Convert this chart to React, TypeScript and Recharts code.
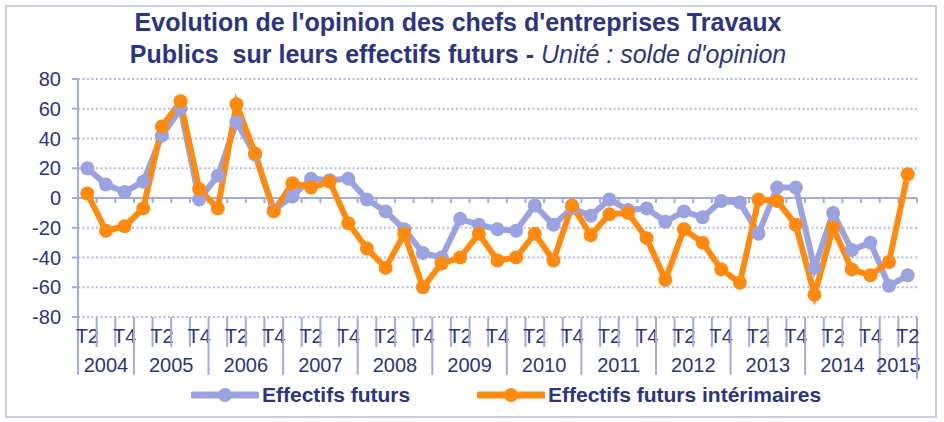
import React from 'react';
import { LineChart, Line, XAxis, YAxis, CartesianGrid, ReferenceLine } from 'recharts';

// quarters, first one is 2004 T2
const periods = [
  '2004 T2', '2004 T3', '2004 T4',
  '2005 T1', '2005 T2', '2005 T3', '2005 T4',
  '2006 T1', '2006 T2', '2006 T3', '2006 T4',
  '2007 T1', '2007 T2', '2007 T3', '2007 T4',
  '2008 T1', '2008 T2', '2008 T3', '2008 T4',
  '2009 T1', '2009 T2', '2009 T3', '2009 T4',
  '2010 T1', '2010 T2', '2010 T3', '2010 T4',
  '2011 T1', '2011 T2', '2011 T3', '2011 T4',
  '2012 T1', '2012 T2', '2012 T3', '2012 T4',
  '2013 T1', '2013 T2', '2013 T3', '2013 T4',
  '2014 T1', '2014 T2', '2014 T3', '2014 T4',
  '2015 T1', '2015 T2',
];

const effectifsFuturs = [
  20, 9, 4, 11, 42, 60, -1, 15, 51, 29, -8, 1, 13, 12, 13, -1, -9, -21, -37, -40, -14, -18, -21,
  -22, -5, -18, -7, -12, -1, -8, -7, -16, -9, -13, -2, -3, -24, 7, 7, -47, -10, -35, -30, -59, -52,
];

const effectifsInterim = [
  3, -22, -19, -7, 48, 65, 6, -7, 63, 30, -9, 10, 7, 11, -17, -34, -47, -24, -60, -44, -40, -24, -42,
  -40, -24, -42, -5, -25, -11, -10, -27, -55, -21, -30, -48, -57, -1, -2, -18, -65, -20, -48, -52, -43, 16,
];

const yTicks = [-80, -60, -40, -20, 0, 20, 40, 60, 80];

const data = periods.map((p, i) => ({
  period: p,
  futurs: effectifsFuturs[i],
  interim: effectifsInterim[i],
}));

const NAVY = '#2a3585';
const BLUE = '#9aa3df';
const ORANGE = '#ff8a0d';
const AXIS = '#a3aae3';
const GRID = '#b3b9ea';
const FONT = '"Liberation Sans", Arial, sans-serif';

const W = 944;
const H = 422;
const margin = { top: 79, right: 27, left: 8, bottom: 45 };
const Y_W = 70;
const PLOT_W = W - margin.left - margin.right - Y_W;

const XTick = (props: any) => {
  const { x, y, payload, index } = props;
  const n = periods.length;
  const bw = PLOT_W / n;
  const [year, q] = String(payload.value).split(' ');
  const xl = x - bw / 2;
  const yearStart = index === 0 || q === 'T1';
  const count = periods.filter((p) => p.startsWith(year)).length;
  return (
    <g>
      <line x1={xl} x2={xl} y1={y} y2={y + (yearStart ? 58 : 30)} stroke={AXIS} strokeWidth={2} />
      {index === n - 1 && (
        <line x1={x + bw / 2} x2={x + bw / 2} y1={y} y2={y + 62} stroke={AXIS} strokeWidth={2} />
      )}
      {index % 2 === 0 && (
        <text x={x} y={y + 26} textAnchor="middle" fill={NAVY} fontSize={20} fontFamily={FONT}>
          {q}
        </text>
      )}
      {yearStart && (
        <text x={xl + (count * bw) / 2} y={y + 55} textAnchor="middle" fill={NAVY} fontSize={20} fontFamily={FONT}>
          {year}
        </text>
      )}
    </g>
  );
};

const ZeroLine = (props: any) => {
  const { x1, x2, y1 } = props;
  const n = periods.length;
  const step = (x2 - x1) / n;
  const marks = [];
  for (let k = 1; k <= n; k++) {
    marks.push(
      <line key={k} x1={x1 + k * step} x2={x1 + k * step} y1={y1} y2={y1 + 5} stroke={AXIS} strokeWidth={2} />
    );
  }
  return (
    <g>
      <line x1={x1} x2={x2} y1={y1} y2={y1} stroke={AXIS} strokeWidth={2} />
      {marks}
    </g>
  );
};

const LegendItem = ({ color, label, left }: { color: string; label: string; left: number }) => (
  <div style={{ position: 'absolute', left, top: 384, height: 22, display: 'flex', alignItems: 'center' }}>
    <svg width={68} height={22}>
      <line x1={2} x2={66} y1={11} y2={11} stroke={color} strokeWidth={7} strokeLinecap="round" />
      <circle cx={34} cy={11} r={7} fill={color} />
    </svg>
    <span style={{ marginLeft: 3, color: NAVY, fontWeight: 'bold', fontSize: 21, fontFamily: FONT }}>{label}</span>
  </div>
);

export default function App() {
  return (
    <div style={{ position: 'absolute', left: 0, top: 0, width: W, height: H, background: '#fff', fontFamily: FONT }}>
      <div
        style={{
          position: 'absolute',
          left: 5,
          top: 5,
          width: 928,
          height: 409,
          border: '2px solid #c8cdee',
        }}
      />
      <div
        style={{
          position: 'absolute',
          left: 0,
          top: 6,
          width: 916,
          textAlign: 'center',
          color: NAVY,
          fontWeight: 'bold',
          fontSize: 25,
          lineHeight: '32px',
        }}
      >
        <div>Evolution de l'opinion des chefs d'entreprises Travaux</div>
        <div>
          Publics&nbsp; sur leurs effectifs futurs - <span style={{ fontWeight: 'normal', fontStyle: 'italic' }}>Unité : solde d'opinion</span>
        </div>
      </div>
      <div style={{ position: 'absolute', left: 0, top: 0 }}>
        <LineChart width={W} height={H} data={data} margin={margin}>
          <CartesianGrid vertical={false} stroke={GRID} strokeWidth={2} strokeDasharray="2 2.5" />
          <XAxis
            dataKey="period"
            scale="band"
            interval={0}
            axisLine={false}
            tickLine={false}
            tickSize={0}
            tickMargin={0}
            height={60}
            tick={<XTick />}
          />
          <YAxis
            domain={[-80, 80]}
            ticks={yTicks}
            width={Y_W}
            axisLine={{ stroke: AXIS, strokeWidth: 2 }}
            tickLine={{ stroke: AXIS, strokeWidth: 2 }}
            tickSize={6}
            tickMargin={11}
            tick={{ fill: NAVY, fontSize: 20, fontFamily: FONT }}
            interval={0}
          />
          <ReferenceLine y={0} shape={<ZeroLine />} />
          <Line
            dataKey="futurs"
            stroke={BLUE}
            strokeWidth={6}
            dot={{ r: 7, fill: BLUE, stroke: BLUE, strokeWidth: 0 }}
            isAnimationActive={false}
          />
          <Line
            dataKey="interim"
            stroke={ORANGE}
            strokeWidth={6}
            dot={{ r: 7, fill: ORANGE, stroke: ORANGE, strokeWidth: 0 }}
            isAnimationActive={false}
          />
        </LineChart>
      </div>
      <LegendItem color={BLUE} label="Effectifs futurs" left={191} />
      <LegendItem color={ORANGE} label="Effectifs futurs intérimaires" left={477} />
    </div>
  );
}
